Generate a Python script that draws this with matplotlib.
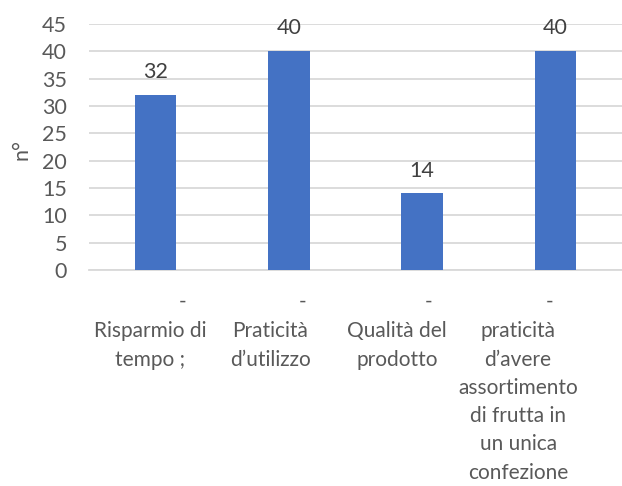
import matplotlib
matplotlib.use('Agg')
import matplotlib.pyplot as plt

# Survey answers: reasons for buying, number of respondents
categories = [
    "Risparmio di\ntempo ;",
    "Praticità\nd\u2019utilizzo",
    "Qualità del\nprodotto",
    "praticità\nd\u2019avere\nassortimento\ndi frutta in\nun unica\nconfezione",
]
counts = [32, 40, 14, 40]
y_ticks = [0, 5, 10, 15, 20, 25, 30, 35, 40, 45]

plt.rcParams['font.family'] = ['Lato', 'DejaVu Sans']

bar_color = '#4472C4'
text_color = '#595959'
label_color = '#404040'
grid_color = '#D9D9D9'

fig = plt.figure(figsize=(6.22, 4.86), dpi=100)
ax = fig.add_axes([0.1431, 0.4444, 0.8569, 0.5062])

x = list(range(len(categories)))
ax.bar(x, counts, width=0.31, color=bar_color, zorder=3)

ax.set_xlim(-0.5, len(categories) - 0.5)
ax.set_ylim(0, 45)
ax.set_yticks(y_ticks)
ax.set_yticklabels([str(v) for v in y_ticks], fontsize=15.5, color=text_color)
ax.tick_params(axis='y', length=0, pad=16)
ax.set_xticks([])

for side in ['top', 'right', 'left']:
    ax.spines[side].set_visible(False)
ax.spines['bottom'].set_color(grid_color)
ax.spines['bottom'].set_linewidth(1.3)
ax.yaxis.grid(True, color=grid_color, linewidth=1.3, zorder=0)

ax.set_ylabel('n°', fontsize=15.5, color=text_color)
ax.yaxis.set_label_coords(-0.108, 0.49)

# value labels above the bars
for xi, v in zip(x, counts):
    ax.annotate(str(v), (xi, v), xytext=(0, 16.5), textcoords='offset points',
                ha='center', va='center', fontsize=15.5, color=label_color)

# category labels sit below the axis, shifted a little left of each bar
label_shift = [-0.04, -0.14, -0.19, -0.28]
for xi, name, dx in zip(x, categories, label_shift):
    ax.text(xi + dx + 0.24, -0.13, '-', transform=ax.get_xaxis_transform(),
            ha='center', va='center', fontsize=15, color=text_color)
    ax.text(xi + dx, -0.208, name, transform=ax.get_xaxis_transform(),
            ha='center', va='top', multialignment='center', fontsize=15,
            color=text_color, linespacing=1.52)

fig.savefig('out.png', dpi=100)
